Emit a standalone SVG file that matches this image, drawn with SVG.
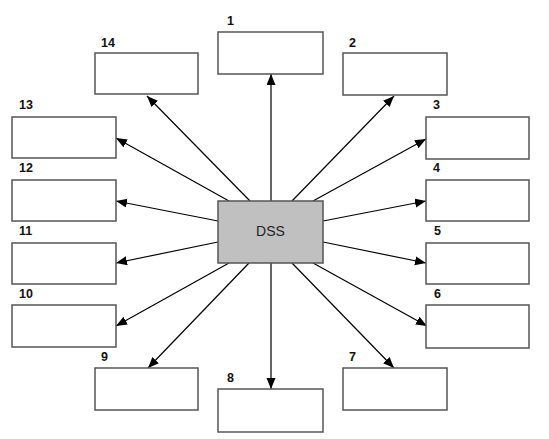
<svg xmlns="http://www.w3.org/2000/svg" width="549" height="439" viewBox="0 0 549 439">
<defs>
<marker id="ah" markerUnits="userSpaceOnUse" markerWidth="12" markerHeight="10" refX="11" refY="4.5" orient="auto">
<path d="M0,0 L11,4.5 L0,9 Z" fill="#000"/>
</marker>
<style>
.box{fill:#fff;stroke:#555;stroke-width:1.5}
.dss{fill:#c0c0c0;stroke:#555;stroke-width:1.5}
.lbl{font-family:"Liberation Sans",Arial,sans-serif;font-size:12.5px;font-weight:bold;fill:#111}
.dtx{font-family:"Liberation Sans",Arial,sans-serif;font-size:14px;fill:#222}
.con line{stroke:#000;stroke-width:1.2;marker-end:url(#ah)}
</style>
</defs>
<rect width="549" height="439" fill="#fff"/>
<g id="connectors" class="con">
<line x1="271" y1="201" x2="271" y2="74"/>
<line x1="292" y1="201" x2="394" y2="96"/>
<line x1="313" y1="201" x2="426" y2="139"/>
<line x1="323" y1="221" x2="426" y2="201"/>
<line x1="323" y1="242" x2="426" y2="263"/>
<line x1="313" y1="263" x2="427" y2="326"/>
<line x1="292" y1="263" x2="394" y2="368"/>
<line x1="271" y1="263" x2="271" y2="389"/>
<line x1="249" y1="263" x2="148" y2="368"/>
<line x1="229" y1="263" x2="116" y2="326"/>
<line x1="218" y1="242" x2="116" y2="263"/>
<line x1="218" y1="221" x2="116" y2="201"/>
<line x1="229" y1="201" x2="116" y2="138"/>
<line x1="250" y1="201" x2="147" y2="96"/>
</g>
<g id="dss"><rect class="dss" x="218" y="201" width="105" height="62"/><text class="dtx" x="270.5" y="236" text-anchor="middle">DSS</text></g>
<g id="n1"><rect class="box" x="218" y="32" width="105" height="42"/><text class="lbl" x="227" y="25">1</text></g>
<g id="n2"><rect class="box" x="343" y="53" width="104" height="42"/><text class="lbl" x="349" y="47">2</text></g>
<g id="n3"><rect class="box" x="426" y="117" width="103" height="42"/><text class="lbl" x="433" y="109">3</text></g>
<g id="n4"><rect class="box" x="426" y="180" width="103" height="41"/><text class="lbl" x="433" y="172">4</text></g>
<g id="n5"><rect class="box" x="426" y="243" width="103" height="41"/><text class="lbl" x="434" y="235">5</text></g>
<g id="n6"><rect class="box" x="426" y="305" width="103" height="43"/><text class="lbl" x="434" y="298">6</text></g>
<g id="n7"><rect class="box" x="343" y="368" width="104" height="42"/><text class="lbl" x="349" y="361">7</text></g>
<g id="n8"><rect class="box" x="218" y="389" width="105" height="43"/><text class="lbl" x="227" y="382">8</text></g>
<g id="n9"><rect class="box" x="95" y="368" width="103" height="42"/><text class="lbl" x="101" y="361">9</text></g>
<g id="n10"><rect class="box" x="12" y="305" width="104" height="42"/><text class="lbl" x="19" y="298">10</text></g>
<g id="n11"><rect class="box" x="12" y="243" width="104" height="41"/><text class="lbl" x="19" y="235">11</text></g>
<g id="n12"><rect class="box" x="12" y="180" width="104" height="41"/><text class="lbl" x="19" y="172">12</text></g>
<g id="n13"><rect class="box" x="12" y="117" width="104" height="41"/><text class="lbl" x="19" y="109">13</text></g>
<g id="n14"><rect class="box" x="95" y="53" width="103" height="41"/><text class="lbl" x="101" y="47">14</text></g>
</svg>
